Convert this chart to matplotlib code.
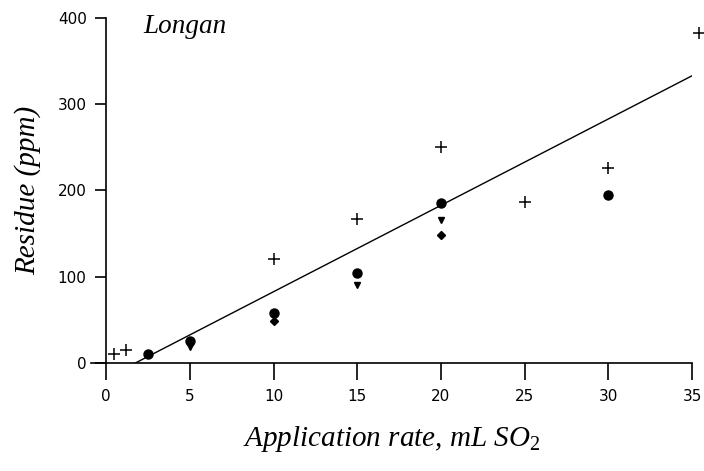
import matplotlib
matplotlib.use('Agg')
import matplotlib.pyplot as plt

plt.rcParams['mathtext.fontset'] = 'custom'
plt.rcParams['mathtext.rm'] = 'Liberation Serif'
plt.rcParams['mathtext.it'] = 'Liberation Serif:italic'

# plus markers
plus_x = [0.45, 1.2, 10, 15, 20, 25, 30, 35.4]
plus_y = [11, 15, 120, 167, 250, 187, 226, 383]
# filled circles
dot_x = [2.5, 5, 10, 15, 20, 30]
dot_y = [10, 26, 58, 104, 186, 195]
# small down triangles
tri_x = [5, 15, 20]
tri_y = [18, 90, 166]
# small diamonds
dia_x = [10, 20]
dia_y = [49, 148]
# fitted line
fit_x = [1.75, 35]
fit_y = [0, 333]

xticks = [0, 5, 10, 15, 20, 25, 30, 35]
yticks = [0, 100, 200, 300, 400]

fig = plt.figure(figsize=(7.04, 4.71), dpi=100)
ax = fig.add_axes([0.1293, 0.2293, 0.8537, 0.7325])

ax.plot(fit_x, fit_y, color='black', lw=1.0)
ax.plot(plus_x, plus_y, ls='none', marker='+', ms=9, mew=1.1, color='black', clip_on=False)
ax.plot(dot_x, dot_y, ls='none', marker='o', ms=6.5, color='black', clip_on=False)
ax.plot(tri_x, tri_y, ls='none', marker='v', ms=5, color='black', clip_on=False)
ax.plot(dia_x, dia_y, ls='none', marker='D', ms=4.5, color='black', clip_on=False)

ax.set_xlim(-0.9, 35)
ax.set_ylim(0, 400)
ax.set_xticks(xticks)
ax.set_yticks(yticks)
for s in ['top', 'right']:
    ax.spines[s].set_visible(False)
for s in ['left', 'bottom']:
    ax.spines[s].set_linewidth(1.2)
ax.spines['left'].set_position(('data', 0))
ax.tick_params(axis='y', direction='out', length=8, width=1.2, labelsize=11, pad=6)
ax.tick_params(axis='x', direction='out', length=12, width=1.2, labelsize=11, pad=7)

ax.set_xlabel('Application rate, mL SO$_2$', family='Liberation Serif', style='italic',
              fontsize=21, labelpad=14)
ax.set_ylabel('Residue (ppm)', family='Liberation Serif', style='italic',
              fontsize=21, labelpad=12)
ax.text(2.2, 390, 'Longan', family='Liberation Serif', style='italic',
        fontsize=19.5, va='center', ha='left')

fig.savefig('out.png', dpi=100)
